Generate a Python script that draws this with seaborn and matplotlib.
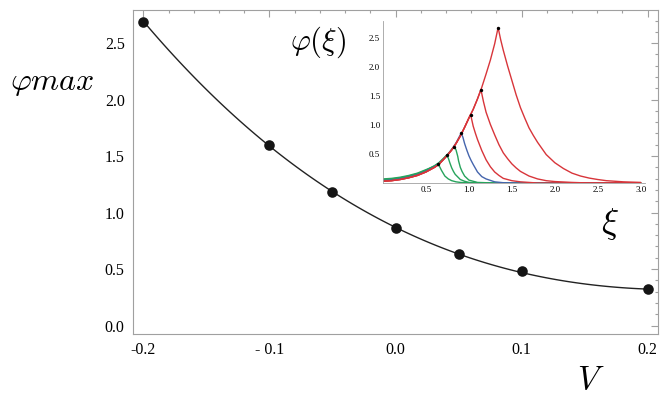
import numpy as np
import pandas as pd
import matplotlib
matplotlib.use("Agg")
import matplotlib.pyplot as plt
import matplotlib.ticker as mticker
import seaborn as sns

sns.set_theme(style="white")
plt.rcParams["font.family"] = ["Liberation Serif", "DejaVu Serif"]
plt.rcParams["mathtext.fontset"] = "cm"
plt.rcParams["text.color"] = "black"
plt.rcParams["xtick.labelcolor"] = "black"
plt.rcParams["ytick.labelcolor"] = "black"

# main panel: peak height vs velocity
V = [-0.2, -0.1, -0.05, 0.0, 0.05, 0.1, 0.2]
phi_max = [2.69, 1.60, 1.18, 0.86, 0.63, 0.48, 0.32]

x_ticks = [-0.2, -0.1, 0.0, 0.1, 0.2]
x_ticklabels = ["-0.2", "- 0.1", "0.0", "0.1", "0.2"]
y_ticks = [0.0, 0.5, 1.0, 1.5, 2.0, 2.5]

# inset: profiles phi(xi)
xi_1 = [0, 0.1, 0.2, 0.3, 0.4, 0.5, 0.55, 0.6, 0.65, 0.7, 0.75, 0.8, 0.85, 0.9,
        0.95, 1.0, 1.05, 1.1, 1.15, 1.2, 1.25, 1.3, 1.34,
        1.37, 1.4, 1.45, 1.5, 1.55, 1.6, 1.65, 1.7, 1.75, 1.8, 1.9, 2.0,
        2.1, 2.2, 2.3, 2.4, 2.5, 2.6, 2.8, 3.0]
phi_1 = [0.03, 0.04, 0.06, 0.09, 0.13, 0.19, 0.23, 0.27, 0.32, 0.40, 0.48, 0.57, 0.68, 0.81,
         0.96, 1.12, 1.27, 1.45, 1.65, 1.88, 2.12, 2.40, 2.68,
         2.47, 2.29, 2.02, 1.77, 1.52, 1.30, 1.12, 0.95, 0.82, 0.70, 0.49, 0.35,
         0.25, 0.17, 0.12, 0.085, 0.06, 0.04, 0.02, 0.01]

xi_2 = [0, 0.1, 0.2, 0.3, 0.4, 0.5, 0.55, 0.6, 0.65, 0.7, 0.75, 0.8, 0.85, 0.9,
        0.95, 1.0, 1.05, 1.1, 1.14,
        1.17, 1.2, 1.25, 1.3, 1.35, 1.4, 1.45, 1.5, 1.55, 1.6, 1.7, 1.8, 1.9, 2.0,
        2.2, 2.4, 3.0]
phi_2 = [0.03, 0.04, 0.06, 0.09, 0.13, 0.19, 0.23, 0.27, 0.32, 0.40, 0.48, 0.57, 0.68, 0.81,
         0.96, 1.12, 1.27, 1.45, 1.61,
         1.40, 1.22, 1.01, 0.83, 0.66, 0.52, 0.42, 0.33, 0.26, 0.20, 0.12, 0.07, 0.04, 0.025,
         0.01, 0.0, 0.0]

xi_3 = [0, 0.1, 0.2, 0.3, 0.4, 0.5, 0.55, 0.6, 0.65, 0.7, 0.75, 0.8, 0.85, 0.9,
        0.95, 1.0, 1.02,
        1.05, 1.075, 1.1, 1.15, 1.2, 1.25, 1.3, 1.35, 1.4, 1.5, 1.6, 1.8, 3.0]
phi_3 = [0.03, 0.04, 0.06, 0.09, 0.13, 0.19, 0.23, 0.27, 0.32, 0.40, 0.48, 0.57, 0.68, 0.81,
         0.96, 1.12, 1.18,
         0.98, 0.86, 0.75, 0.56, 0.40, 0.28, 0.19, 0.13, 0.08, 0.04, 0.02, 0.0, 0.0]

xi_4 = [0, 0.1, 0.2, 0.3, 0.4, 0.5, 0.55, 0.6, 0.65, 0.7, 0.75, 0.8, 0.85, 0.91,
        0.93, 0.95, 0.975, 1.0, 1.025, 1.05, 1.1, 1.15, 1.2, 1.3, 1.4, 1.6, 3.0]
phi_4 = [0.04, 0.05, 0.07, 0.10, 0.14, 0.20, 0.24, 0.28, 0.33, 0.40, 0.48, 0.58, 0.69, 0.86,
         0.79, 0.68, 0.57, 0.47, 0.39, 0.32, 0.19, 0.11, 0.07, 0.02, 0.005, 0.0, 0.0]

xi_5 = [0, 0.1, 0.2, 0.3, 0.4, 0.5, 0.55, 0.6, 0.65, 0.7, 0.75, 0.8, 0.83,
        0.85, 0.87, 0.88, 0.9, 0.92, 0.95, 1.0, 1.05, 1.1, 1.3, 3.0]
phi_5 = [0.05, 0.06, 0.08, 0.11, 0.15, 0.21, 0.25, 0.29, 0.34, 0.41, 0.49, 0.58, 0.62,
         0.57, 0.46, 0.38, 0.27, 0.20, 0.12, 0.05, 0.03, 0.01, 0.0, 0.0]

xi_6 = [0, 0.1, 0.2, 0.3, 0.4, 0.5, 0.55, 0.6, 0.65, 0.7, 0.74,
        0.76, 0.78, 0.8, 0.82, 0.84, 0.86, 0.9, 0.95, 1.0, 1.2, 3.0]
phi_6 = [0.06, 0.07, 0.09, 0.12, 0.16, 0.22, 0.26, 0.30, 0.35, 0.42, 0.48,
         0.43, 0.34, 0.26, 0.20, 0.15, 0.12, 0.06, 0.03, 0.01, 0.0, 0.0]

xi_7 = [0, 0.1, 0.2, 0.3, 0.4, 0.5, 0.55, 0.6, 0.64,
        0.66, 0.68, 0.7, 0.72, 0.76, 0.8, 0.85, 0.9, 1.1, 3.0]
phi_7 = [0.07, 0.08, 0.10, 0.13, 0.17, 0.23, 0.26, 0.29, 0.32,
         0.28, 0.22, 0.17, 0.12, 0.07, 0.04, 0.02, 0.01, 0.0, 0.0]

peak_xi = [1.34, 1.14, 1.02, 0.91, 0.83, 0.74, 0.64]
peak_phi = [2.68, 1.61, 1.18, 0.86, 0.62, 0.48, 0.32]

RED = "#d8353a"
BLUE = "#4565ad"
GREEN = "#27a35c"
FRAME = "#a0a0a0"

profiles = [
    ("g3", xi_7, phi_7, GREEN),
    ("g2", xi_6, phi_6, GREEN),
    ("g1", xi_5, phi_5, GREEN),
    ("b", xi_4, phi_4, BLUE),
    ("r3", xi_3, phi_3, RED),
    ("r2", xi_2, phi_2, RED),
    ("r1", xi_1, phi_1, RED),
]
rows = []
for name, xs, ys, _ in profiles:
    for x, y in zip(xs, ys):
        rows.append({"curve": name, "xi": x, "phi": y})
df_prof = pd.DataFrame(rows)
palette = {name: c for name, _, _, c in profiles}

fig = plt.figure(figsize=(6.69, 4.05), dpi=100)

# ---- main axes
ax = fig.add_axes([133 / 669, 71 / 405, 525 / 669, 324 / 405])
sns.regplot(x=V, y=phi_max, order=3, ci=None, truncate=True, ax=ax,
            scatter_kws={"s": 58, "color": "#151515", "alpha": 1,
                         "zorder": 3, "linewidths": 0},
            line_kws={"color": "#222222", "linewidth": 1.0})

ax.set_xlim(-0.2083, 0.2083)
ax.set_ylim(-0.075, 2.793)
ax.set_xticks(x_ticks)
ax.set_xticklabels(x_ticklabels)
ax.set_yticks(y_ticks)
ax.set_yticklabels([f"{t:.1f}" for t in y_ticks])
ax.xaxis.set_minor_locator(mticker.MultipleLocator(0.02))
ax.yaxis.set_minor_locator(mticker.MultipleLocator(0.1))
ax.tick_params(which="both", direction="in", top=True, right=True,
               color=FRAME, width=0.8, labelsize=11.5, pad=6)
ax.tick_params(which="major", length=5)
ax.tick_params(which="minor", length=2.5)
for sp in ax.spines.values():
    sp.set_color(FRAME)
    sp.set_linewidth(0.8)

fig.text(52 / 669, 1 - 84 / 405, r"$\varphi max$", fontsize=23,
         ha="center", va="center")
fig.text(591 / 669, 1 - 381 / 405, r"$V$", fontsize=24,
         ha="center", va="center")

# ---- inset
axin = fig.add_axes([383 / 669, 222 / 405, 262 / 669, 162.4 / 405])
axin.patch.set_alpha(0)
sns.lineplot(data=df_prof, x="xi", y="phi", hue="curve", palette=palette,
             estimator=None, sort=False, legend=False, linewidth=1.0, ax=axin)
axin.scatter(peak_xi, peak_phi, s=6, color="black", zorder=5, linewidths=0)

axin.set_xlim(0, 3.05)
axin.set_ylim(0, 2.8)
axin.set_xlabel("")
axin.set_ylabel("")
axin.set_xticks([0.5, 1.0, 1.5, 2.0, 2.5, 3.0])
axin.set_yticks([0.5, 1.0, 1.5, 2.0, 2.5])
axin.xaxis.set_minor_locator(mticker.MultipleLocator(0.1))
axin.yaxis.set_minor_locator(mticker.MultipleLocator(0.1))
axin.tick_params(which="both", direction="in", color=FRAME, width=0.6,
                 labelsize=6.5, pad=2)
axin.tick_params(which="major", length=3)
axin.tick_params(which="minor", length=1.5)
axin.spines["top"].set_visible(False)
axin.spines["right"].set_visible(False)
for s in ("left", "bottom"):
    axin.spines[s].set_color(FRAME)
    axin.spines[s].set_linewidth(0.6)

fig.text(318 / 669, 1 - 42 / 405, r"$\varphi(\xi)$", fontsize=22,
         ha="center", va="center")
fig.text(610 / 669, 1 - 224 / 405, r"$\xi$", fontsize=26,
         ha="center", va="center")

fig.savefig("out.png", dpi=100)
